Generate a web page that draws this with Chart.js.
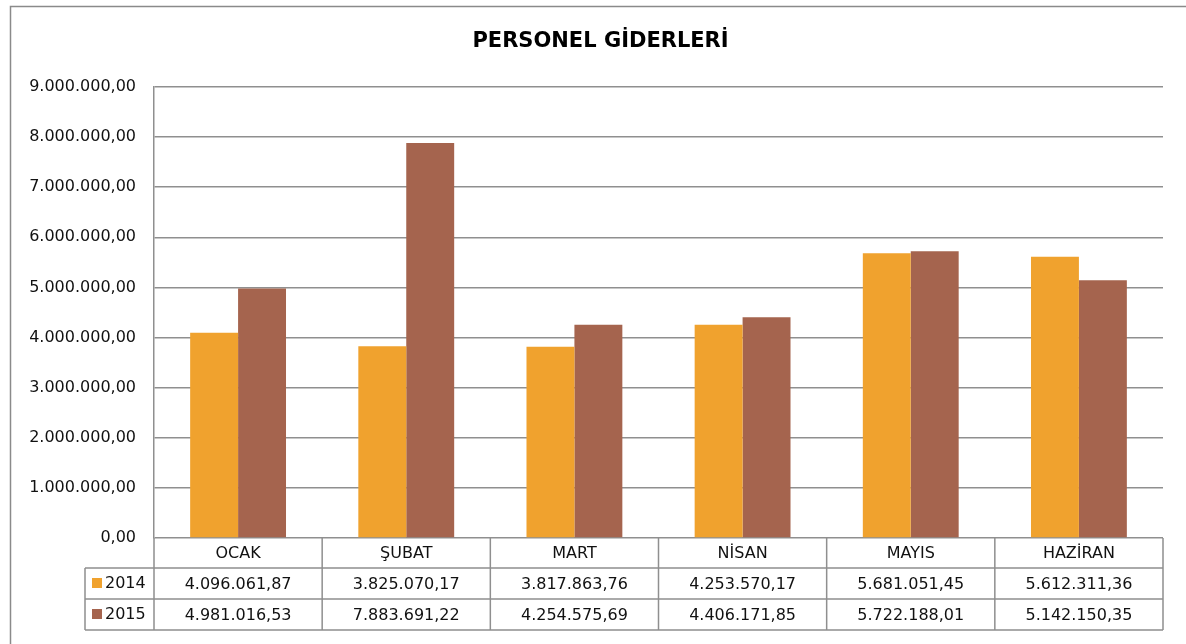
<!DOCTYPE html>
<html>
<head>
<meta charset="utf-8">
<title>Personel Giderleri</title>
<script src="https://cdn.jsdelivr.net/npm/chart.js@4/dist/chart.umd.min.js"></script>
<style>
    body { margin: 0; background: #fff; }
    canvas { display: block; }
</style>
</head>
<body>
<canvas id="chart" width="1186" height="644"></canvas>
<script>

const months = ["OCAK", "ŞUBAT", "MART", "NİSAN", "MAYIS", "HAZİRAN"];
const series2014 = [4096061.87, 3825070.17, 3817863.76, 4253570.17, 5681051.45, 5612311.36];
const series2015 = [4981016.53, 7883691.22, 4254575.69, 4406171.85, 5722188.01, 5142150.35];
const seriesNames = ["2014", "2015"];
const yTicks = [0, 1000000, 2000000, 3000000, 4000000, 5000000, 6000000, 7000000, 8000000, 9000000];

const title = "PERSONEL GİDERLERİ";
const colors = ["#F0A22E", "#A5644E"];
const lineColor = "#8f8f8f";
const textColor = "#111";
const font = "DejaVu Sans";

// turkish number format: 1.234.567,89
function fmt(v) {
    const parts = v.toFixed(2).split(".");
    const intPart = parts[0].replace(/\B(?=(\d{3})+(?!\d))/g, ".");
    return intPart + "," + parts[1];
}

const tablePlugin = {
    id: "dataTable",
    afterDraw(chart) {
        const ctx = chart.ctx;
        const x = chart.scales.x;
        const area = chart.chartArea;
        const n = months.length;
        const colW = (x.right - x.left) / n;
        const top = area.bottom;
        const rowH = [30, 31, 31];
        const y1 = top + rowH[0];
        const y2 = y1 + rowH[1];
        const y3 = y2 + rowH[2];
        const legendLeft = 85;

        ctx.save();

        // outer frame
        ctx.strokeStyle = "#8a8a8a";
        ctx.lineWidth = 1.5;
        ctx.strokeRect(10.5, 6.5, 1300, 800);

        // title
        ctx.fillStyle = "#000";
        ctx.font = "bold 21px '" + font + "'";
        ctx.textAlign = "center";
        ctx.textBaseline = "middle";
        ctx.fillText(title, (area.left + area.right) / 2 - 58, 42);

        // table lines
        ctx.strokeStyle = lineColor;
        ctx.lineWidth = 1.5;
        ctx.beginPath();
        [y1, y2, y3].forEach(y => {
            ctx.moveTo(legendLeft, y);
            ctx.lineTo(x.right, y);
        });
        ctx.moveTo(legendLeft, y1);
        ctx.lineTo(legendLeft, y3);
        for (let i = 0; i <= n; i++) {
            const px = x.left + i * colW;
            ctx.moveTo(px, top);
            ctx.lineTo(px, y3);
        }
        ctx.stroke();

        // cells
        ctx.fillStyle = textColor;
        ctx.font = "16px '" + font + "'";
        ctx.textAlign = "center";
        const rows = [series2014, series2015];
        months.forEach((m, i) => {
            const cx = x.getPixelForValue(i);
            ctx.fillText(m, cx, top + rowH[0] / 2 + 1);
            ctx.fillText(fmt(rows[0][i]), cx, y1 + rowH[1] / 2 + 1);
            ctx.fillText(fmt(rows[1][i]), cx, y2 + rowH[2] / 2 + 1);
        });

        // legend keys
        ctx.textAlign = "left";
        [y1, y2].forEach((y, k) => {
            ctx.fillStyle = colors[k];
            ctx.fillRect(legendLeft + 7, y + 10, 10, 10);
            ctx.fillStyle = textColor;
            ctx.fillText(seriesNames[k], legendLeft + 20, y + 16);
        });

        ctx.restore();
    }
};

new Chart(document.getElementById("chart"), {
    type: "bar",
    data: {
        labels: months,
        datasets: [
            {
                label: seriesNames[0],
                data: series2014,
                backgroundColor: colors[0],
                borderWidth: 0
            },
            {
                label: seriesNames[1],
                data: series2015,
                backgroundColor: colors[1],
                borderWidth: 0
            }
        ]
    },
    options: {
        responsive: false,
        animation: false,
        devicePixelRatio: 1,
        layout: {
            padding: { top: 87, right: 23, bottom: 106, left: 0 }
        },
        datasets: {
            bar: { barPercentage: 1, categoryPercentage: 0.57 }
        },
        plugins: {
            legend: { display: false },
            title: { display: false },
            tooltip: { enabled: false }
        },
        scales: {
            x: {
                display: false
            },
            y: {
                min: 0,
                max: 9000000,
                afterFit(scale) { scale.width = 154; },
                afterBuildTicks(scale) {
                    scale.ticks = yTicks.map(v => ({ value: v }));
                },
                border: { display: true, color: lineColor, width: 1.5 },
                grid: { color: lineColor, lineWidth: 1.5, drawTicks: false },
                ticks: {
                    padding: 18,
                    color: textColor,
                    font: { family: font, size: 16 },
                    callback: v => fmt(v)
                }
            }
        }
    },
    plugins: [tablePlugin]
});

</script>
</body>
</html>
